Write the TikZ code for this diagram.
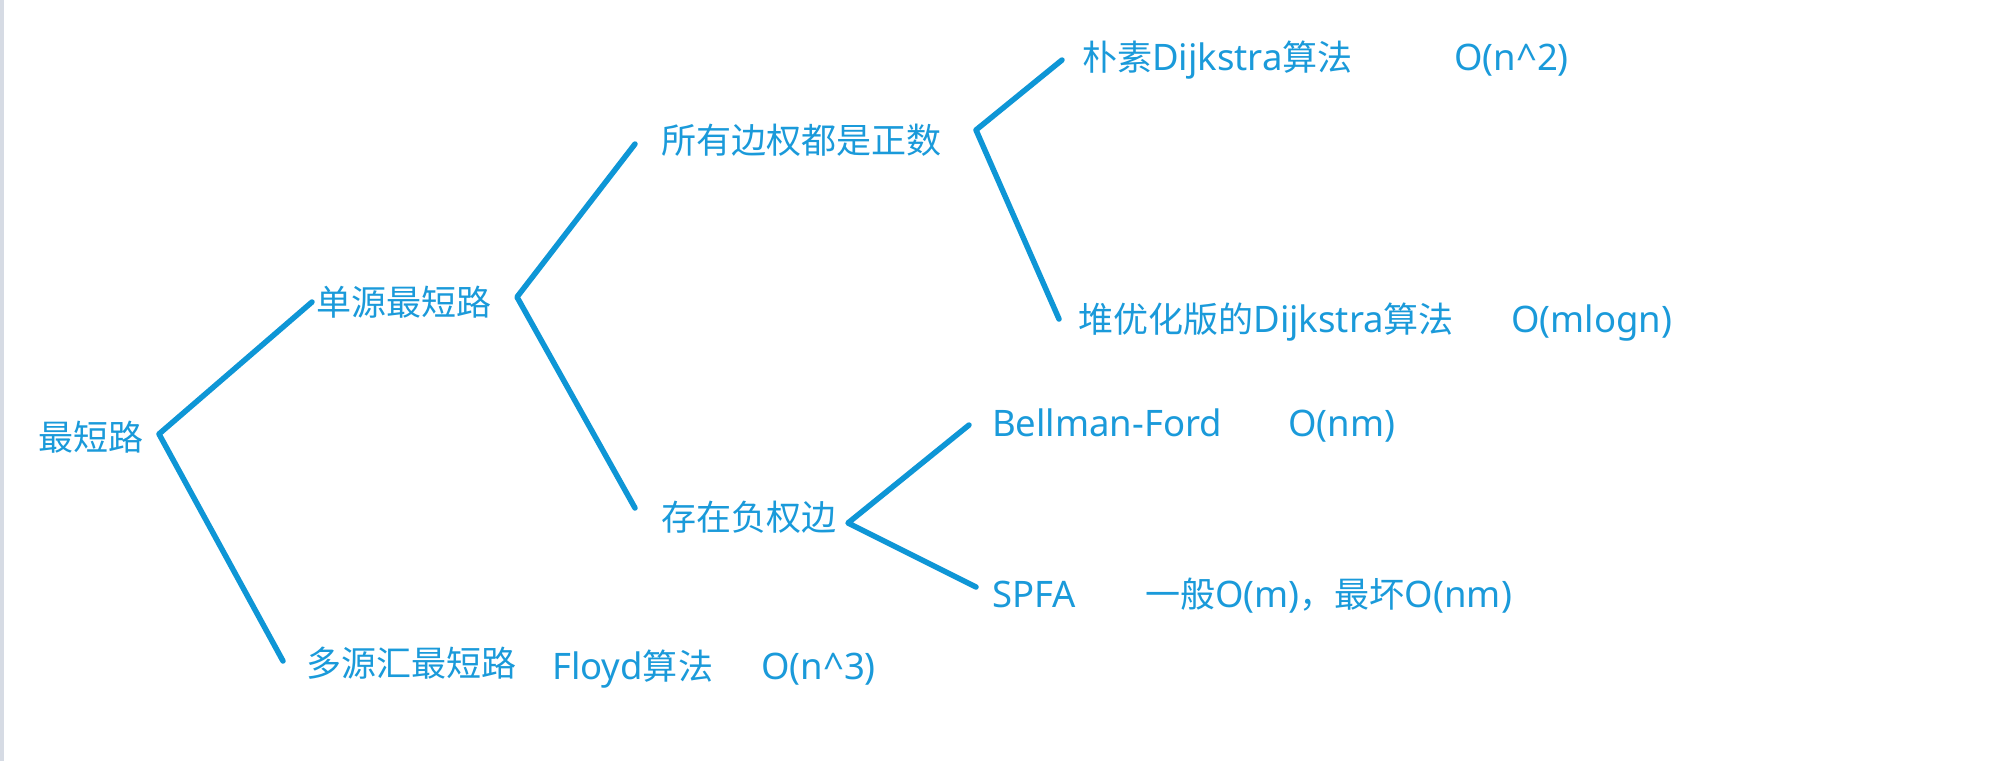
\documentclass[tikz,border=0pt]{standalone}
\usepackage{fontspec}
\setmainfont{Noto Sans}
\newfontfamily\cjk[Scale=0.96]{Noto Sans CJK SC}
\definecolor{txtblue}{RGB}{26,154,218}
\definecolor{lineblue}{RGB}{14,150,214}
\definecolor{edgegray}{RGB}{214,219,228}
\begin{document}
\begin{tikzpicture}[x=1pt,y=-1pt,
  lbl/.style={anchor=base west,inner sep=0pt,text=txtblue,font=\fontsize{36.5}{44}\selectfont},
  branch/.style={draw=lineblue,line width=5.5pt,line cap=round,line join=round}]
\fill[white] (0,0) rectangle (2000,761);
\useasboundingbox (0,0) rectangle (2000,761);
\fill[edgegray] (0,0) rectangle (4,761);
% labels
\node[lbl] (root)   at (38,450)   {\cjk 最短路};
\node[lbl] (single) at (316,315)  {\cjk 单源最短路};
\node[lbl] (multi)  at (306,676)  {\cjk 多源汇最短路};
\node[lbl] (floyd)  at (552,679)  {Floyd{\cjk 算法}};
\node[lbl] (on3)    at (761,679)  {O(n\textasciicircum 3)};
\node[lbl] (pos)    at (661,153)  {\cjk 所有边权都是正数};
\node[lbl] (neg)    at (661,530)  {\cjk 存在负权边};
\node[lbl] (naive)  at (1082,70)  {{\cjk 朴素}Dijkstra{\cjk 算法}};
\node[lbl] (on2)    at (1454,70)  {O(n\textasciicircum 2)};
\node[lbl] (heap)   at (1078,332) {{\cjk 堆优化版的}Dijkstra{\cjk 算法}};
\node[lbl] (omlogn) at (1511,332) {O(mlogn)};
\node[lbl] (bf)     at (992,436)  {Bellman-Ford};
\node[lbl] (onm)    at (1288,436) {O(nm)};
\node[lbl] (spfa)   at (992,607)  {SPFA};
\node[lbl] (spfac)  at (1145,607) {{\cjk 一般}O(m){\cjk ，最坏}O(nm)};
% fork points
\coordinate (f1) at (159,434);
\coordinate (e1a) at (312,302);
\coordinate (e1b) at (283,661);
\coordinate (f2) at (517,297);
\coordinate (e2a) at (635,144);
\coordinate (e2b) at (635,508);
\coordinate (f3) at (976,130);
\coordinate (e3a) at (1062,60);
\coordinate (e3b) at (1059,319);
\coordinate (f4) at (848,523);
\coordinate (e4a) at (969,425);
\coordinate (e4b) at (976,587);
\draw[branch] (e1a) -- (f1) -- (e1b);
\draw[branch] (e2a) -- (f2) -- (e2b);
\draw[branch] (e3a) -- (f3) -- (e3b);
\draw[branch] (e4a) -- (f4) -- (e4b);
\end{tikzpicture}
\end{document}
